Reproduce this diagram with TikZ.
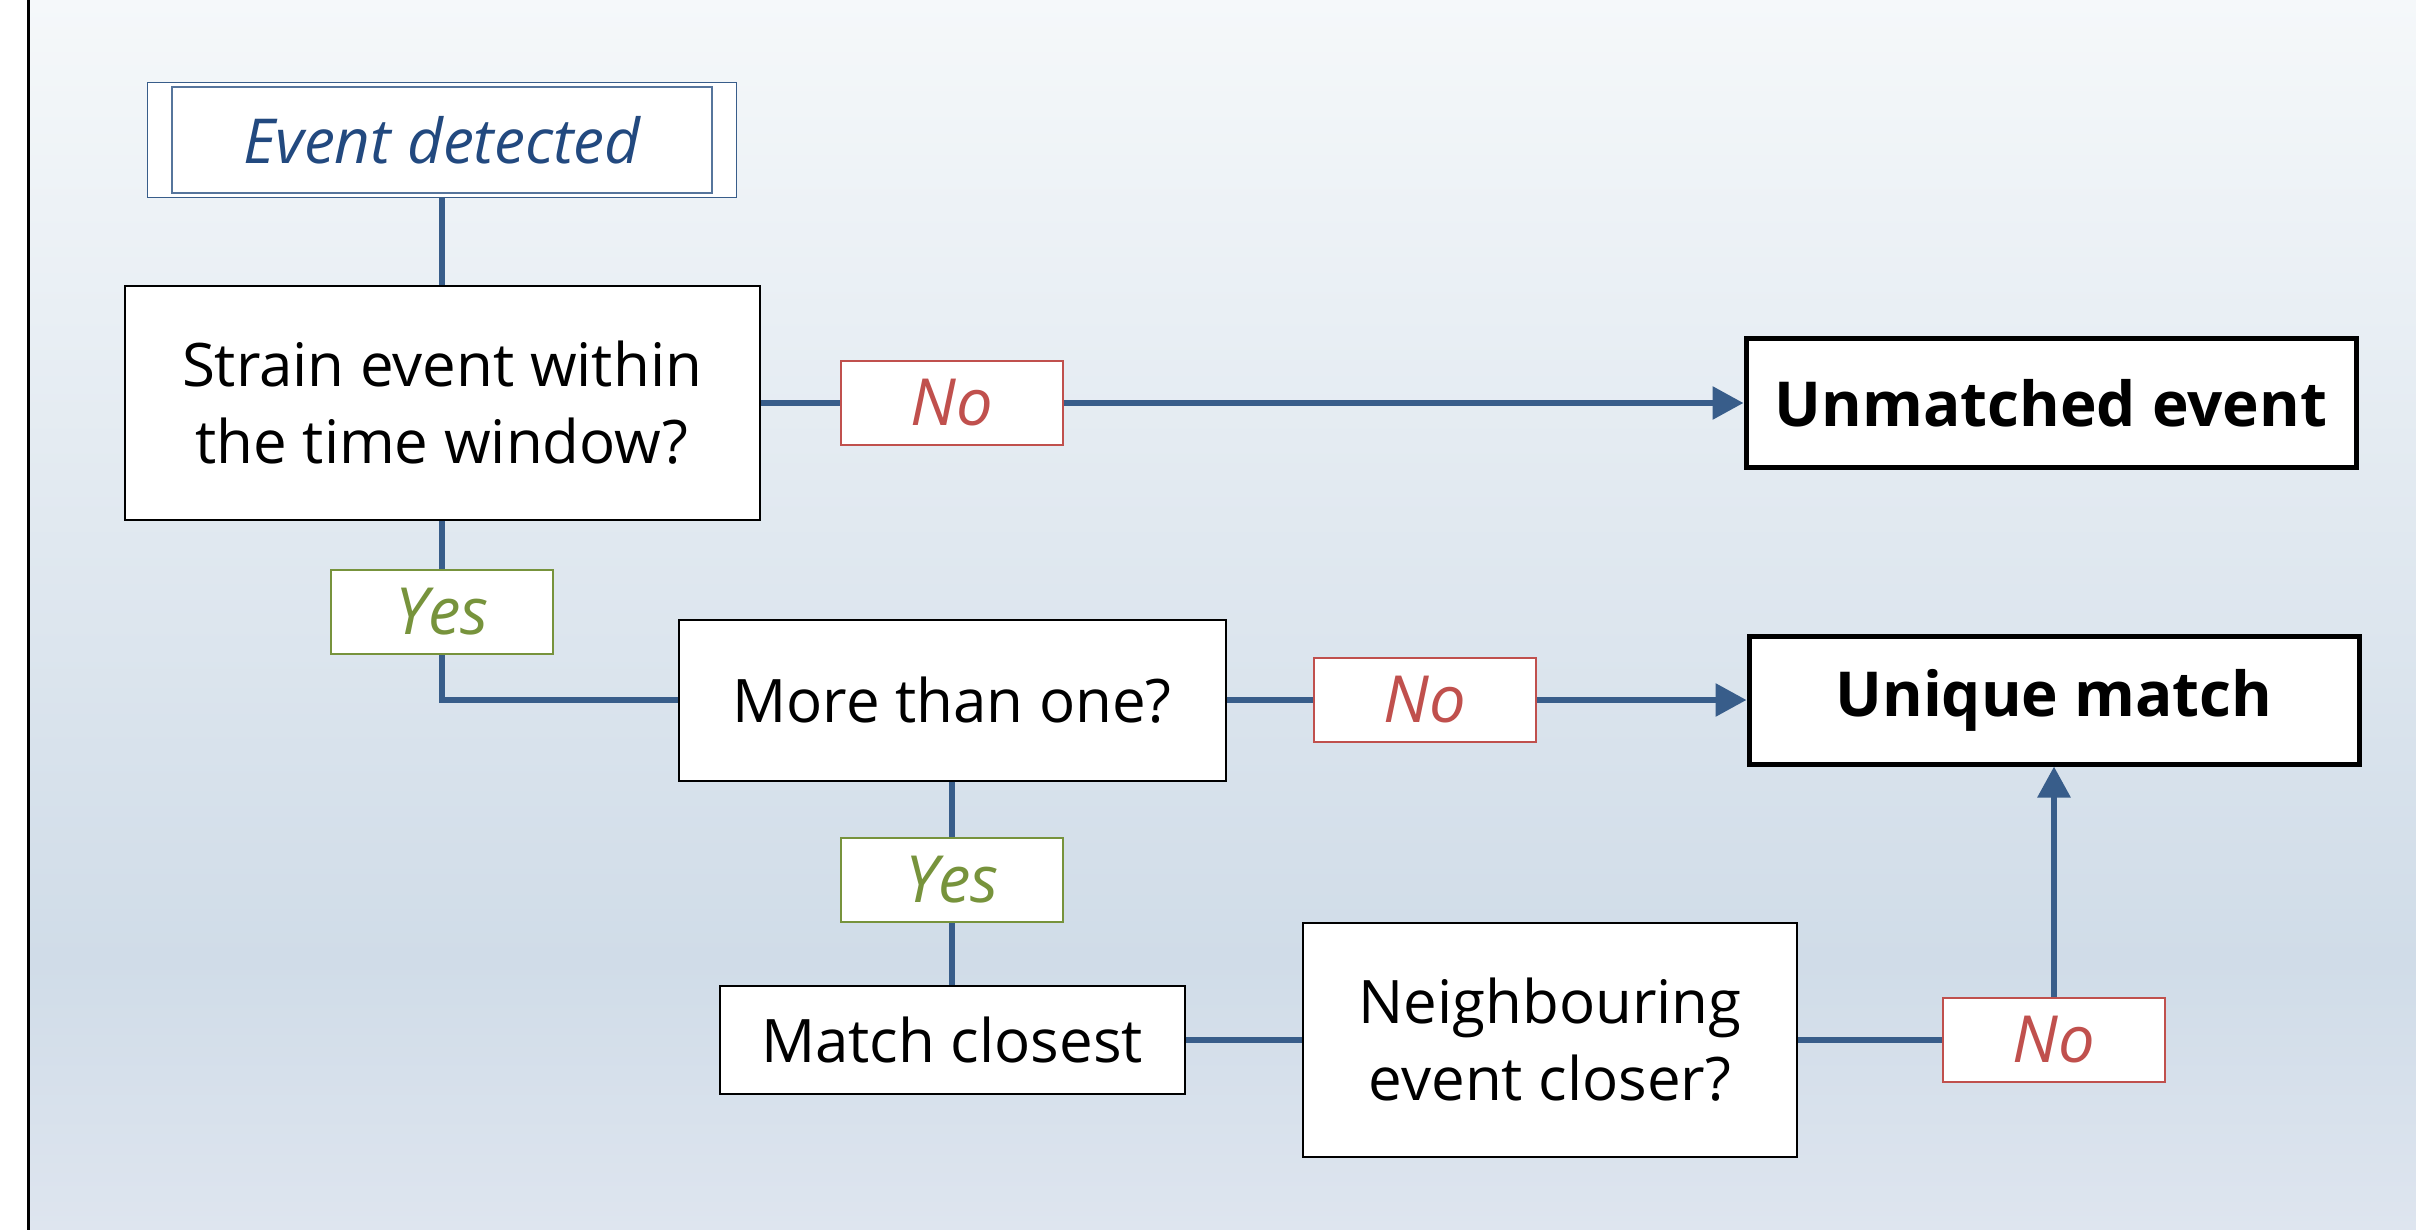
\documentclass[tikz,border=0pt]{standalone}
\usepackage{fontspec}
\setmainfont{Open Sans}
\usetikzlibrary{arrows.meta,shadows}
\definecolor{linkblue}{HTML}{385D8A}
\definecolor{evblue}{HTML}{22497F}
\definecolor{noRed}{HTML}{C0504D}
\definecolor{yesGreen}{HTML}{77933C}
\definecolor{bgtop}{HTML}{F5F8FA}
\definecolor{bgdeep}{HTML}{D0DCE8}
\definecolor{bgbot}{HTML}{DEE5EF}
\pgfdeclareverticalshading{bgfade}{100bp}{color(0bp)=(bgbot); color(25bp)=(bgbot); color(36bp)=(bgdeep); color(75bp)=(bgtop); color(100bp)=(bgtop)}

\begin{document}
\begin{tikzpicture}[x=0.5pt,y=-0.5pt,
    font=\fontsize{30}{38.5}\selectfont,
    procbox/.style={draw=black, line width=1pt, fill=white, align=center, inner sep=0pt},
    endbox/.style={draw=black, line width=2.5pt, fill=white, inner sep=0pt,
        font=\fontsize{31}{38}\selectfont\bfseries,
        minimum width=305pt, minimum height=64pt,
        drop shadow={shadow xshift=1.5pt, shadow yshift=-1.5pt, opacity=0.3, fill=black!70}},
    nolabel/.style={draw=noRed, line width=1pt, fill=white, text=noRed, inner sep=0pt,
        font=\fontsize{32.5}{38}\selectfont\itshape, minimum width=111pt, minimum height=42pt},
    yeslabel/.style={nolabel, draw=yesGreen, text=yesGreen},
    link/.style={draw=linkblue, line width=3pt},
    flow/.style={link, -{Triangle[length=15.5pt,width=16pt]}}]
        % 背景
        \useasboundingbox (0,0) rectangle (2416,1230);
        \fill[white] (0,0) rectangle (2416,1230);
        \shade[shading=bgfade] (29,0) rectangle (2416,1230);
        \draw[line width=1.5pt] (28.5,0) -- (28.5,1230);
        % 绘制方框
        \node[procbox, draw=linkblue, line width=0.8pt, minimum width=294.5pt, minimum height=57.5pt,
            text=evblue, font=\fontsize{31}{38.5}\selectfont\itshape] (event) at (442,140) {Event detected};
        \draw[linkblue!85, line width=0.8pt] ([xshift=12.75pt,yshift=-2.75pt]event.north west)
            rectangle ([xshift=-12.75pt,yshift=2.75pt]event.south east);
        \node[procbox, minimum width=317.5pt, minimum height=117pt] (strain) at (442,403) {Strain event within\\the time window?};
        \node[nolabel] (no1) at (952,403) {No};
        \node[endbox] (unmatched) at (2051,403) {Unmatched event};
        \node[yeslabel] (yes1) at (442,612) {Yes};
        \node[procbox, minimum width=273.5pt, minimum height=80.5pt] (more) at (952,700) {More than one?};
        \node[nolabel] (no2) at (1425,700) {No};
        \node[endbox] (unique) at (2054,700) {Unique match};
        \node[yeslabel] (yes2) at (952,880) {Yes};
        \node[procbox, minimum width=232.5pt, minimum height=54pt] (closest) at (952,1040) {Match closest};
        \node[procbox, minimum width=247pt, minimum height=117pt] (neigh) at (1550,1040) {Neighbouring\\event closer?};
        \node[nolabel] (no3) at (2054,1040) {No};
        % 绘制连线
        \draw[link] (event) -- (strain);
        \draw[link] (strain) -- (no1);
        \draw[flow] (no1) -- (unmatched);
        \draw[link] (strain) -- (yes1);
        \draw[link] (yes1.south) |- (more.west);
        \draw[link] (more) -- (no2);
        \draw[flow] (no2) -- (unique);
        \draw[link] (more) -- (yes2);
        \draw[link] (yes2) -- (closest);
        \draw[link] (closest) -- (neigh);
        \draw[link] (neigh) -- (no3);
        \draw[flow] (no3) -- (unique);
    \end{tikzpicture}
\end{document}
